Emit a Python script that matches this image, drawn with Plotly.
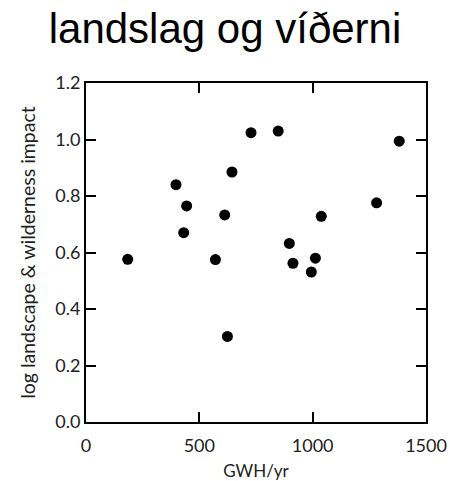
import plotly.graph_objects as go

# GWH/yr vs log landscape & wilderness impact
gwh = [184, 397, 444, 431, 571, 612, 624, 644, 728, 848, 897, 913, 994, 1012, 1038, 1282, 1382]
impact = [0.576, 0.840, 0.765, 0.670, 0.575, 0.733, 0.303, 0.885, 1.024, 1.030,
          0.632, 0.562, 0.531, 0.580, 0.728, 0.776, 0.994]

x_ticks = [0, 500, 1000, 1500]
y_ticks = [0.0, 0.2, 0.4, 0.6, 0.8, 1.0, 1.2]
y_labels = ['0.0', '0.2', '0.4', '0.6', '0.8', '1.0', '1.2']


def base_figure():
    fig = go.Figure()
    fig.update_layout(
        width=450,
        height=481,
        margin=dict(l=86, r=24, t=83, b=59),
        paper_bgcolor='white',
        plot_bgcolor='white',
        showlegend=False,
        title=dict(
            text='landslag og víðerni',
            x=0.5, xanchor='center',
            y=1 - 28 / 481, yanchor='middle',
            font=dict(family='Liberation Sans, Arial', size=42, color='black'),
        ),
        font=dict(family='Lato, sans-serif', size=14, color='#222'),
    )
    axis_style = dict(
        showline=True, linecolor='black', linewidth=2,
        mirror='ticks', ticks='inside', ticklen=10, tickwidth=2, tickcolor='black',
        showgrid=False, zeroline=False, automargin=False,
        tickfont=dict(family='Lato, sans-serif', size=18, color='#222'),
    )
    fig.update_xaxes(
        range=[0, 1500], tickvals=x_ticks, ticklabelstandoff=6,
        title=dict(text='GWH/yr', font=dict(size=17), standoff=14),
        **axis_style,
    )
    fig.update_yaxes(
        range=[0, 1.2], tickvals=y_ticks, ticktext=y_labels,
        title=dict(text='log landscape & wilderness impact', font=dict(size=19.5), standoff=14),
        **axis_style,
    )
    return fig


def add_points(fig):
    fig.add_trace(go.Scatter(
        x=gwh, y=impact, mode='markers',
        marker=dict(color='black', size=11),
        cliponaxis=False,
    ))
    return fig


fig = base_figure()
fig = add_points(fig)
fig.write_html('out.html', config={'displayModeBar': False},
               post_script="document.body.style.margin='0';")
